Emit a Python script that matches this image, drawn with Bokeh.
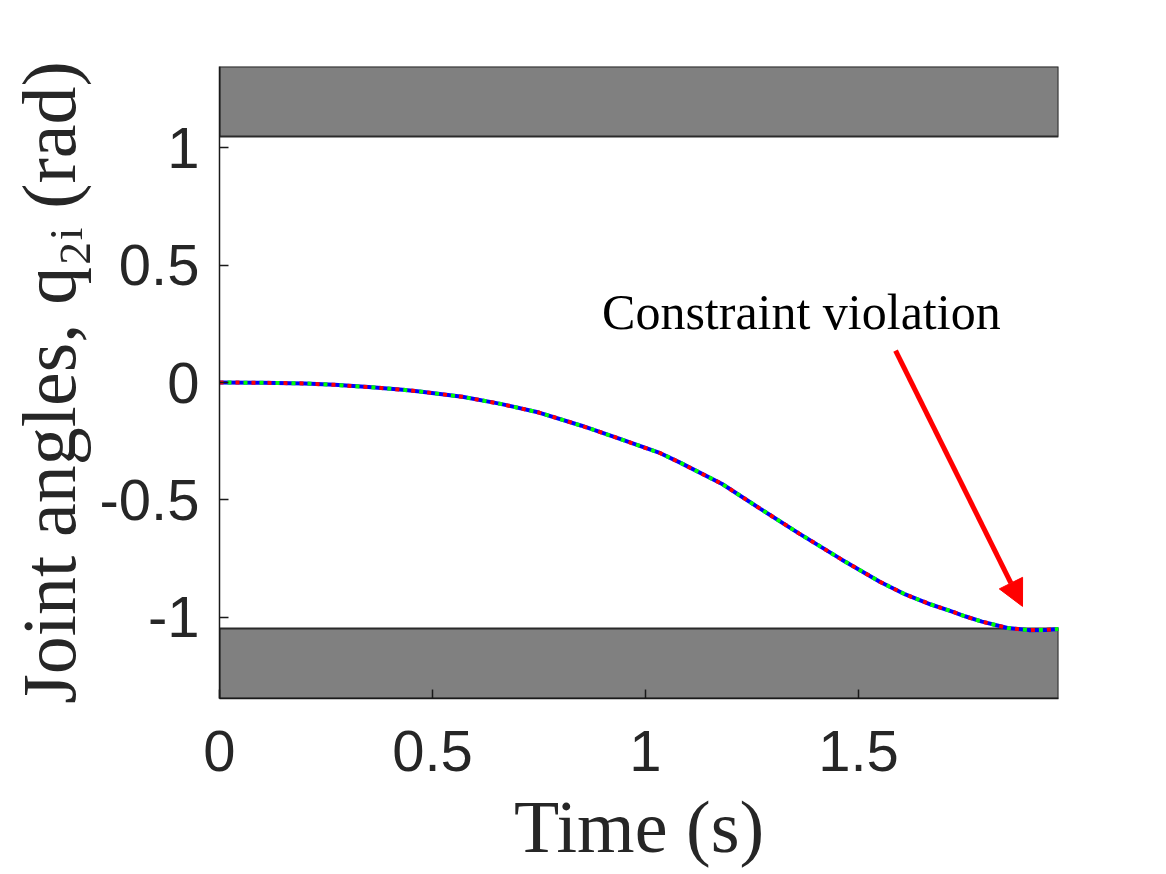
import math
from bokeh.plotting import figure
from bokeh.models import Range1d, FixedTicker, Label, Arrow, NormalHead, ColumnDataSource
from bokeh.embed import file_html
from bokeh.resources import INLINE

# ---- data ----
time_s = [0.0, 0.1, 0.2, 0.27, 0.35, 0.43, 0.47, 0.57, 0.66, 0.75, 0.85, 0.94,
          1.035, 1.08, 1.18, 1.27, 1.36, 1.46, 1.55, 1.61, 1.67, 1.72, 1.75,
          1.79, 1.85, 1.9, 1.94, 1.97]
q2_joint = [0.0, -0.001, -0.004, -0.010, -0.019, -0.031, -0.038, -0.061, -0.091,
            -0.128, -0.184, -0.240, -0.301, -0.340, -0.432, -0.538, -0.642,
            -0.753, -0.848, -0.902, -0.945, -0.975, -0.995, -1.018, -1.045,
            -1.054, -1.053, -1.049]
q2_agent_red = list(q2_joint)
q2_agent_green = list(q2_joint)
q2_agent_blue = list(q2_joint)

q_limit = math.pi / 3          # joint constraint +/- 60 deg
y_limits = [-1.345, 1.345]
x_limits = [0.0, 1.9695]

x_ticks = [0, 0.5, 1, 1.5]
x_tick_labels = ["0", "0.5", "1", "1.5"]
y_ticks = [-1, -0.5, 0, 0.5, 1]
y_tick_labels = ["-1", "-0.5", "0", "0.5", "1"]

annotation_text = "Constraint violation"
annotation_pos = (0.898, 0.30)
arrow_start = (1.587, 0.136)
arrow_end = (1.885, -0.953)

# ---- figure ----
p = figure(frame_width=839, frame_height=632, output_backend="svg",
           toolbar_location=None,
           x_range=Range1d(*x_limits), y_range=Range1d(*y_limits),
           min_border_left=219, min_border_right=92,
           min_border_top=66, min_border_bottom=100)
p.background_fill_color = "white"
p.border_fill_color = "white"
p.outline_line_color = None
p.xgrid.visible = False
p.ygrid.visible = False

# constraint regions
p.quad(left=[x_limits[0], x_limits[0]], right=[x_limits[1], x_limits[1]],
       bottom=[q_limit, y_limits[0]], top=[y_limits[1], -q_limit],
       fill_color="#808080", line_color="#2a2a2a", line_width=2)

src = ColumnDataSource(dict(t=time_s, r=q2_agent_red, g=q2_agent_green, b=q2_agent_blue))
p.line("t", "b", source=src, line_color="#0000ff", line_width=4)
p.line("t", "r", source=src, line_color="#ff0000", line_width=4,
       line_dash="4 12", line_dash_offset=0)
p.line("t", "g", source=src, line_color="#00ff00", line_width=4,
       line_dash="4 12", line_dash_offset=8)

# annotation
p.add_layout(Arrow(end=NormalHead(size=26, fill_color="#ff0000", line_color="#ff0000"),
                   x_start=arrow_start[0], y_start=arrow_start[1],
                   x_end=arrow_end[0], y_end=arrow_end[1],
                   line_color="#ff0000", line_width=5))
p.add_layout(Label(x=annotation_pos[0], y=annotation_pos[1], text=annotation_text,
                   text_font="Liberation Serif", text_font_size="50px",
                   text_color="black", text_baseline="alphabetic"))

# axes
for ax, ticks, labels in ((p.xaxis[0], x_ticks, x_tick_labels),
                          (p.yaxis[0], y_ticks, y_tick_labels)):
    ax.ticker = FixedTicker(ticks=ticks)
    ax.major_label_overrides = {t: l for t, l in zip(ticks, labels)}
    ax.minor_tick_line_color = None
    ax.major_tick_in = 9
    ax.major_tick_out = 0
    ax.axis_line_color = "#1a1a1a"
    ax.axis_line_width = 1.5
    ax.major_tick_line_color = "#1a1a1a"
    ax.major_tick_line_width = 1.5
    ax.major_label_text_font = "Liberation Sans"
    ax.major_label_text_font_size = "58px"
    ax.major_label_text_color = "#262626"
    ax.axis_label_text_font = "Liberation Serif"
    ax.axis_label_text_font_style = "normal"
    ax.axis_label_text_color = "#262626"

p.xaxis.axis_label = "Time (s)"
p.xaxis.axis_label_text_font_size = "74px"
p.yaxis.axis_label = "Joint angles, q\u2082\u1d62 (rad)"
p.yaxis.axis_label_text_font_size = "76px"
p.xaxis.major_label_standoff = 32
p.xaxis.axis_label_standoff = 12
p.yaxis.major_label_standoff = 20
p.yaxis.axis_label_standoff = 6

open("out.html", "w").write(file_html(p, INLINE))
